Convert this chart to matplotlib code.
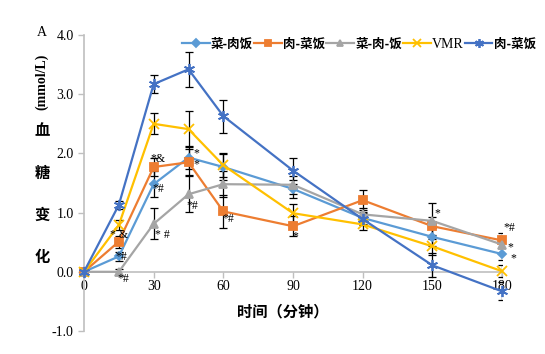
import matplotlib
matplotlib.use("Agg")
import matplotlib.pyplot as plt
import numpy as np

plt.rcParams['font.family'] = ['Liberation Serif', 'Noto Sans CJK SC']

# ── Data ────────────────────────────────────────────────────────────
time = [0, 15, 30, 45, 60, 90, 120, 150, 180]

labels = ["菜-肉饭", "肉-菜饭", "菜-肉-饭", "VMR", "肉-菜饭"]
veg_meat_rice = [0, 0.26, 1.48, 1.93, 1.77, 1.40, 0.91, 0.59, 0.30]
meat_veg_rice = [0, 0.51, 1.77, 1.85, 1.02, 0.77, 1.21, 0.77, 0.53]
veg_meat_rice2 = [0, 0.0, 0.81, 1.31, 1.48, 1.47, 0.97, 0.86, 0.46]
vmr = [0, 0.79, 2.50, 2.41, 1.80, 0.99, 0.80, 0.43, 0.01]
meat_veg_rice2 = [0, 1.13, 3.17, 3.42, 2.63, 1.71, 0.89, 0.11, -0.33]

err_veg_meat = [0, 0.08, 0.22, 0.20, 0.22, 0.15, 0.10, 0.15, 0.10]
err_meat_veg = [0, 0.10, 0.15, 0.22, 0.28, 0.17, 0.17, 0.15, 0.12]
err_veg_meat2 = [0, 0.05, 0.26, 0.30, 0.22, 0.15, 0.10, 0.31, 0.15]
err_vmr = [0, 0.08, 0.18, 0.30, 0.20, 0.15, 0.10, 0.15, 0.10]
err_meat_veg2 = [0, 0.07, 0.15, 0.29, 0.28, 0.22, 0.10, 0.20, 0.15]

series = [veg_meat_rice, meat_veg_rice, veg_meat_rice2, vmr, meat_veg_rice2]
errors = [err_veg_meat, err_meat_veg, err_veg_meat2, err_vmr, err_meat_veg2]

colors = ["#5B9BD5", "#ED7D31", "#A5A5A5", "#FFC000", "#4472C4"]
markers = ["D", "s", "^", "x", (6, 2, 0)]
msizes = [4.5, 6, 6, 7, 8]

# significance marks: (series, time index, text, dx px, dy px)
marks = [
    (1, 1, "* &", 0, 7),
    (0, 1, "*#", 2, -1),
    (2, 1, "*#", 4, -7),
    (1, 2, "*&", 4, 8),
    (0, 2, "*#", 5, -5),
    (2, 2, "* #", 9, -11),
    (0, 3, "*", 8, 4),
    (1, 3, "*", 8, -2),
    (2, 3, "*#", 4, -12),
    (1, 4, "*#", 5, -8),
    (1, 5, "*", 2, -10),
    (2, 7, "*", 5, 8),
    (1, 8, "*#", 7, 12),
    (0, 8, "*", 8, 7),
    (0, 8, "*", 11, -4),
]

# ── Plot ────────────────────────────────────────────────────────────
fig = plt.figure(figsize=(5.45, 3.54), dpi=100)
ax = fig.add_axes([84 / 545, 23 / 354, 418 / 545, 296 / 354])

handles = []
for vals, err, c, m, ms, lab in zip(series, errors, colors, markers, msizes, labels):
    ax.errorbar(time, vals, yerr=err, fmt="none", ecolor="black",
                elinewidth=0.9, capsize=3, capthick=0.9, zorder=3)
    ln, = ax.plot(time, vals, color=c, lw=1.6, marker=m, ms=ms,
                  mec=c, mfc=c, mew=1.3, label=lab, clip_on=False, zorder=4)
    handles.append(ln)

for s, i, txt, dx, dy in marks:
    ax.annotate(txt, (time[i], series[s][i]), xytext=(dx * 0.72, dy * 0.72),
                textcoords="offset points", ha="center", va="center",
                fontsize=8.5, color="black", zorder=5)

ax.set_xlim(0, 180)
ax.set_ylim(-1, 4)
ax.set_xticks([0, 30, 60, 90, 120, 150, 180])
ax.set_yticks([-1, 0, 1, 2, 3, 4])
ax.set_yticklabels([f"{v:.1f}" for v in [-1, 0, 1, 2, 3, 4]])

for side in ["top", "right"]:
    ax.spines[side].set_visible(False)
ax.spines["bottom"].set_position(("data", 0))
for side in ["left", "bottom"]:
    ax.spines[side].set_color("#BFBFBF")
    ax.spines[side].set_linewidth(1.2)
ax.tick_params(colors="#BFBFBF", labelcolor="black", labelsize=10, length=4, width=1)
ax.tick_params(axis="x", direction="out", pad=2)

cjk = ["Noto Sans CJK SC", "DejaVu Sans"]
fig.text(283 / 545, 1 - 311 / 354, "时间（分钟）", ha="center", va="center",
         fontsize=11, fontweight="bold", family=cjk)

# y label pieces
fig.text(42 / 545, 1 - 82 / 354, "(mmol/L)", rotation=90, ha="center", va="center",
         fontsize=10, fontweight="bold")
for ch, yp in zip("血糖变化", [130, 173, 215, 257]):
    fig.text(42 / 545, 1 - yp / 354, ch, ha="center", va="center",
             fontsize=11, fontweight="bold", family=cjk)
fig.text(42 / 545, 1 - 32 / 354, "A", ha="center", va="center", fontsize=10)

leg = fig.legend(handles=handles, loc="center", bbox_to_anchor=(359 / 545, 1 - 44 / 354),
                 ncol=5, frameon=False, handlelength=2.2, handletextpad=0.1,
                 columnspacing=0.1, fontsize=9, borderpad=0, markerscale=0.8)
for i, t in enumerate(leg.get_texts()):
    if labels[i] == "VMR":
        t.set_family("Liberation Serif")
        t.set_fontsize(10)
    else:
        t.set_family(cjk)
        t.set_fontweight("bold")

fig.savefig("out.png", dpi=100)
